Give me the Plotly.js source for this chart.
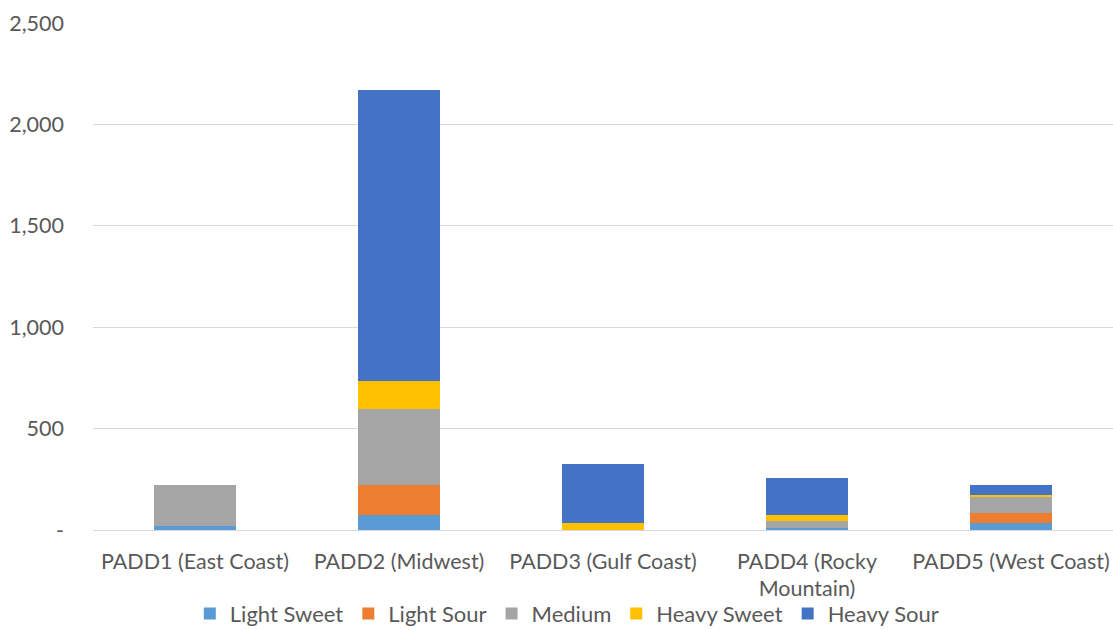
<!DOCTYPE html>
<html>
<head>
<meta charset="utf-8">
<script src="https://cdn.plot.ly/plotly-3.0.1.min.js"></script>
<style>html,body{margin:0;padding:0;background:#fff;}#chart{width:1113px;height:630px;}</style>
</head>
<body>
<div id="chart"></div>
<script>
var categories = ["PADD1 (East Coast)", "PADD2 (Midwest)", "PADD3 (Gulf Coast)", "PADD4 (Rocky<br>Mountain)", "PADD5 (West Coast)"];
var lightSweet = [18, 76, 0, 8, 37];
var lightSour  = [3, 148, 0, 0, 48];
var medium     = [200, 373, 0, 36, 80];
var heavySweet = [0, 137, 36, 28, 8];
var heavySour  = [0, 1436, 289, 183, 48];
var seriesNames = ["Light Sweet", "Light Sour", "Medium", "Heavy Sweet", "Heavy Sour"];
var seriesColors = ["#5b9bd5", "#ed7d31", "#a5a5a5", "#ffc000", "#4472c4"];
var yTickVals = [0, 500, 1000, 1500, 2000, 2500];
var yTickText = ["-", "500", "1,000", "1,500", "2,000", "2,500"];

var seriesData = [lightSweet, lightSour, medium, heavySweet, heavySour];
var traces = seriesData.map(function(vals, i) {
  return {
    type: "bar",
    name: seriesNames[i],
    x: categories,
    y: vals,
    marker: {color: seriesColors[i]}
  };
});

var layout = {
  width: 1113, height: 630,
  barmode: "stack",
  bargap: 0.6,
  margin: {l: 93, r: 0, t: 23, b: 100, autoexpand: false},
  paper_bgcolor: "#fff", plot_bgcolor: "#fff",
  font: {family: "Lato, 'Open Sans', sans-serif", size: 21.5, color: "#595959"},
  xaxis: {
    automargin: false,
    showgrid: false, showline: false, zeroline: false, ticks: "",
    tickfont: {size: 21.5, color: "#595959"},
    ticklabelstandoff: 16
  },
  yaxis: {
    automargin: false,
    range: [0, 2500],
    tickvals: yTickVals, ticktext: yTickText,
    showgrid: true, gridcolor: "#d9d9d9", gridwidth: 1,
    zeroline: true, zerolinecolor: "#d9d9d9", zerolinewidth: 1,
    showline: false, ticks: "",
    tickfont: {size: 21.5, color: "#595959"},
    ticklabelstandoff: 28
  },
  showlegend: true,
  legend: {
    orientation: "h", x: 0.465, xanchor: "center",
    yref: "container", y: 0.026, yanchor: "middle",
    bgcolor: "rgba(0,0,0,0)",
    font: {size: 22, color: "#595959"},
    traceorder: "normal",
    itemwidth: 30
  }
};

Plotly.newPlot("chart", traces, layout, {displayModeBar: false, staticPlot: true});
</script>
</body>
</html>
